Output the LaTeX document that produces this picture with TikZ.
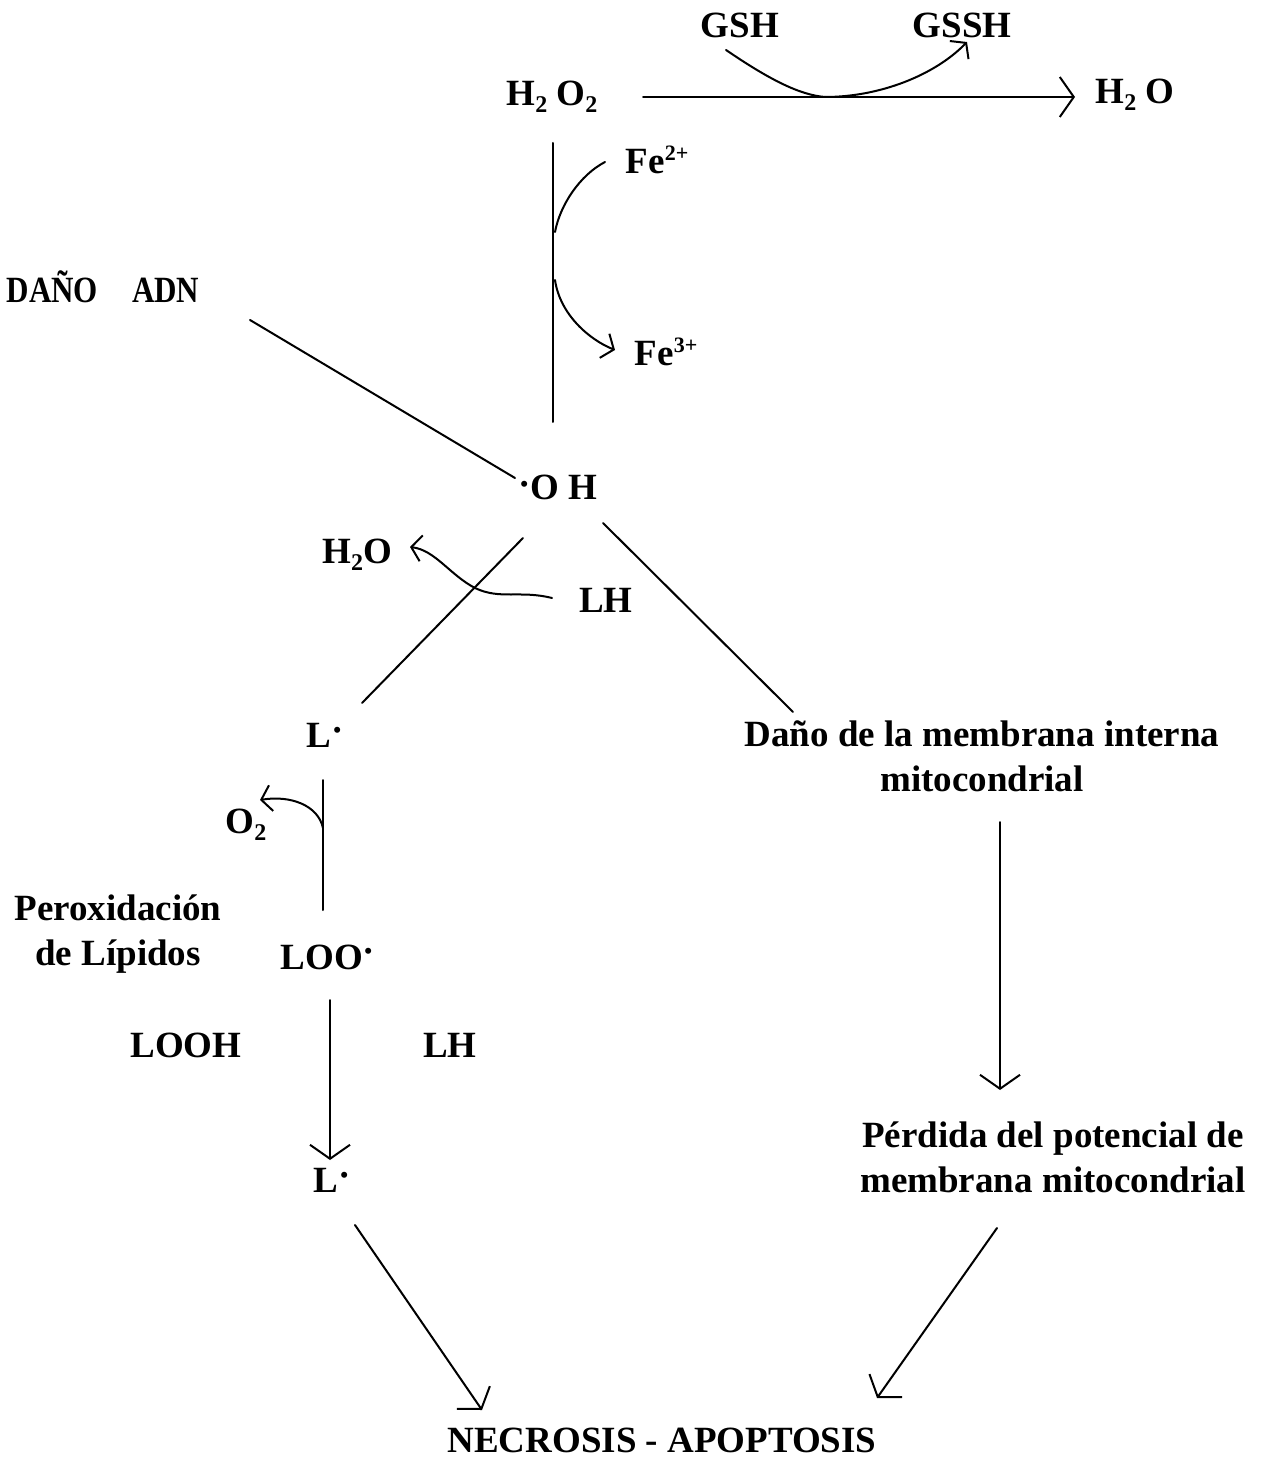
\documentclass[tikz,border=0pt]{standalone}
\usepackage{fontspec}
\usepackage{graphicx}
\setmainfont{Liberation Serif}
\usetikzlibrary{arrows.meta}
\newcommand\sbx[1]{\raisebox{-0.4ex}{\fontsize{12}{12}\selectfont #1}}
\newcommand\spx[1]{\raisebox{0.75ex}{\fontsize{11}{11}\selectfont #1}}
\begin{document}
\begin{tikzpicture}[x=0.5pt,y=-0.5pt,
  lbl/.style={font=\fontsize{18.5}{22.5}\selectfont\bfseries, inner sep=0pt, align=center},
  conn/.style={line width=1pt, line cap=round},
  arr/.style={conn, -{Straight Barb[length=7pt,width=20pt,line width=1pt]}},
  carr/.style={conn, -{Straight Barb[length=5pt,width=13pt,line width=1pt]}}]
\useasboundingbox (0,0) rectangle (1264,1459);
% nodes
\node[lbl] (gsh) at (740,25) {GSH};
\node[lbl] (gssh) at (962,25) {GSSH};
\node[lbl] (hoo) at (552,97) {H\sbx{2} O\sbx{2}};
\node[lbl] (hho) at (1135,95) {H\sbx{2} O};
\node[lbl] (fe2) at (657,160) {Fe\spx{2+}};
\node[lbl] (fe3) at (666,352) {Fe\spx{3+}};
\node[lbl] (adn) at (103,287) {\scalebox{0.84}[1]{DAÑO}\hspace{17pt}\scalebox{0.84}[1]{ADN}};
\node[lbl] (oh) at (558,487) {\raisebox{0.15ex}{·}O H};
\node[lbl] (hoL) at (357,555) {H\sbx{2}O};
\node[lbl] (lh1) at (606,600) {LH};
\node[lbl] (l1) at (325,735) {L\raisebox{0.3ex}{·}};
\node[lbl] (dano) at (982,756) {Daño de la membrana interna\\mitocondrial};
\node[lbl] (o2) at (246,825) {O\sbx{2}};
\node[lbl] (perox) at (118,934) {Peroxidación\\de Lípidos};
\node[lbl] (loo) at (328,957) {LOO\raisebox{0.3ex}{·}};
\node[lbl] (looh) at (186,1045) {LOOH};
\node[lbl] (lh2) at (450,1045) {LH};
\node[lbl] (l2) at (332,1180) {L\raisebox{0.3ex}{·}};
\node[lbl] (perd) at (1053,1157) {Pérdida del potencial de\\membrana mitocondrial};
\node[lbl] (necro) at (662,1440) {NECROSIS - APOPTOSIS};
% connector end points
\coordinate (a1) at (643,97); \coordinate (a2) at (1075,97);
\coordinate (g1) at (726,50); \coordinate (gm) at (825,97); \coordinate (g2) at (967,42);
\coordinate (v1) at (553,143); \coordinate (v2) at (553,422);
\coordinate (f1) at (605,162); \coordinate (f2) at (555,232);
\coordinate (f3) at (555,280); \coordinate (f4) at (615,350);
\coordinate (d1) at (250,320); \coordinate (d2) at (515,478);
\coordinate (b1) at (523,538); \coordinate (b2) at (362,703);
\coordinate (c1) at (603,523); \coordinate (c2) at (793,712);
\coordinate (w1) at (552,598); \coordinate (wm) at (475,588); \coordinate (w2) at (410,547);
\coordinate (e1) at (323,780); \coordinate (e2) at (323,910);
\coordinate (o1) at (323,828); \coordinate (o2t) at (260,800);
\coordinate (k1) at (330,1000); \coordinate (k2) at (330,1160);
\coordinate (r1) at (1000,822); \coordinate (r2) at (1000,1090);
\coordinate (n1) at (355,1225); \coordinate (n2) at (482,1410);
\coordinate (m1) at (997,1228); \coordinate (m2) at (877,1398);
% connectors
\draw[arr] (a1) -- (a2);
\draw[conn] (g1) .. controls (770,80) and (800,95) .. (gm);
\draw[carr] (gm) .. controls (880,97) and (935,75) .. (g2);
\draw[conn] (v1) -- (v2);
\draw[conn] (f1) .. controls (580,175) and (560,205) .. (f2);
\draw[carr] (f3) .. controls (560,315) and (590,340) .. (f4);
\draw[conn] (d1) -- (d2);
\draw[conn] (b1) -- (b2);
\draw[conn] (c1) -- (c2);
\draw[carr] (w1) .. controls (520,590) and (500,600) .. (wm) .. controls (450,575) and (435,550) .. (w2);
\draw[conn] (e1) -- (e2);
\draw[carr] (o1) .. controls (318,805) and (290,795) .. (o2t);
\draw[arr] (k1) -- (k2);
\draw[arr] (r1) -- (r2);
\draw[arr] (n1) -- (n2);
\draw[arr] (m1) -- (m2);
\end{tikzpicture}
\end{document}
